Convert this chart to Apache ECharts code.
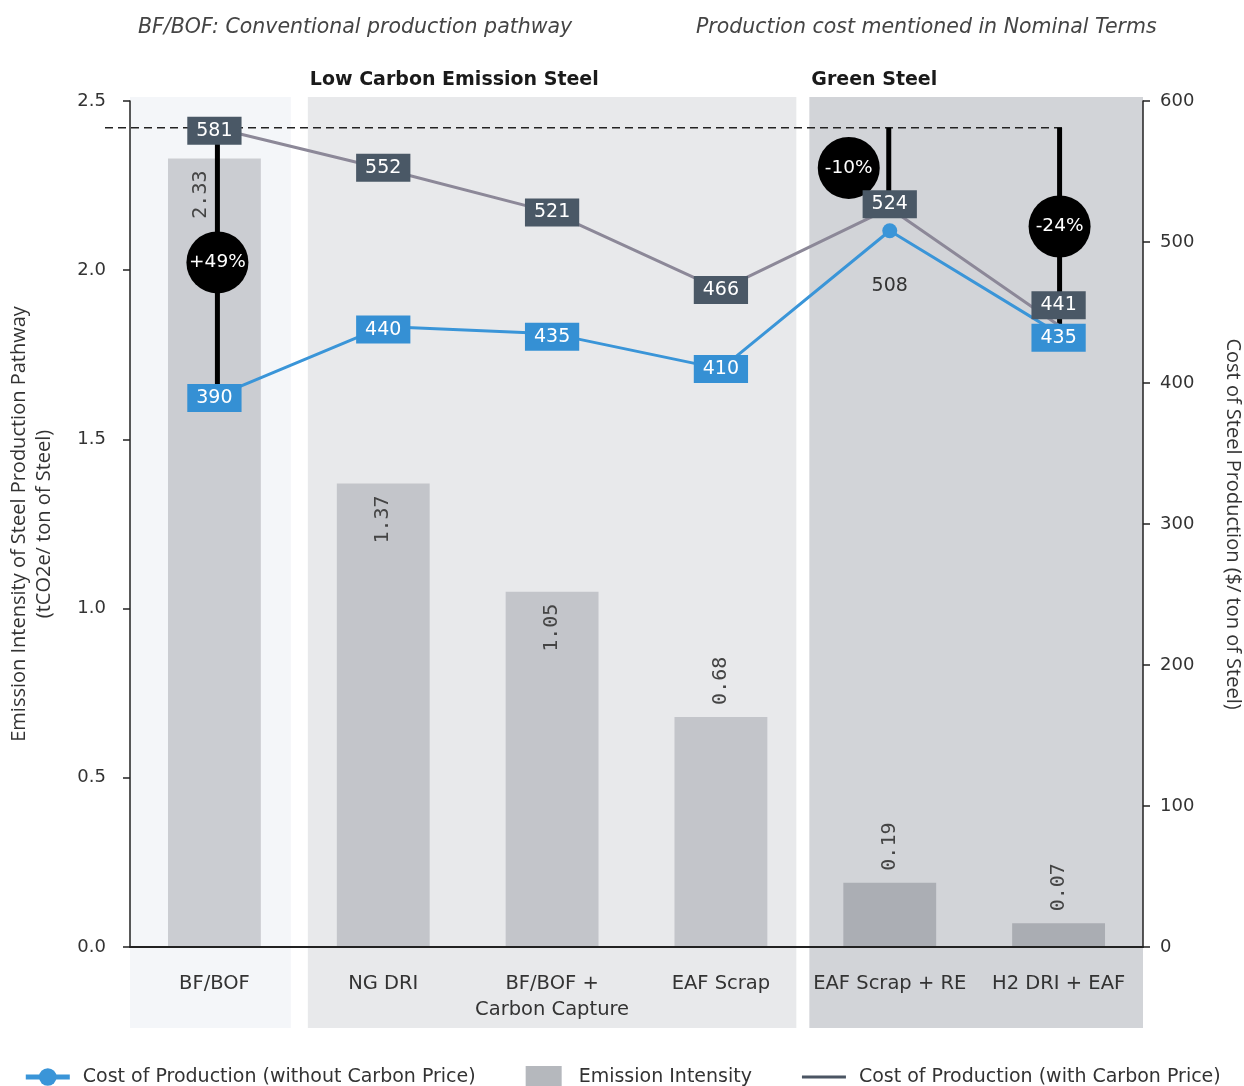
<!DOCTYPE html>
<html>
<head>
<meta charset="utf-8">
<script src="https://cdn.jsdelivr.net/npm/echarts@6/dist/echarts.min.js"></script>
<style>
  html, body { margin: 0; padding: 0; background: #ffffff; }
  #chart { width: 1244px; height: 1086px; }
</style>
</head>
<body>
<div id="chart"></div>
<script>
// Production pathways on the category axis
const categories = ['BF/BOF', 'NG DRI', 'BF/BOF +\nCarbon Capture', 'EAF Scrap', 'EAF Scrap + RE', 'H2 DRI + EAF'];

// Emission intensity (tCO2e / ton of steel), left axis
const emissionIntensity = [2.33, 1.37, 1.05, 0.68, 0.19, 0.07];

// Cost of production ($ / ton of steel), right axis
const costWithoutCarbon = [390, 440, 435, 410, 508, 435];
const costWithCarbon = [581, 552, 521, 466, 524, 441];

// Cost change callouts: category index, from value, to value, text
const changeCategory = [0, 4, 5];
const changeFrom = [581, 581, 581];
const changeTo = [390, 524, 441];
const changeText = ['+49%', '-10%', '-24%'];

// Pathway groups (first / last category of each shaded block)
const groupStart = [0, 1, 4];
const groupEnd = [0, 3, 5];
const groupTitle = ['', 'Low Carbon Emission Steel', 'Green Steel'];

// Axis ranges
const leftAxisMax = 2.5, leftAxisStep = 0.5;
const rightAxisMax = 600, rightAxisStep = 100;

// ---- styling ----
const SANS = "'DejaVu Sans', sans-serif";
const MONO = "'DejaVu Sans Mono', monospace";
const TITLE_FONT = "'Open Sans', sans-serif";
const groupFill = ['#f4f6f9', '#e8e9eb', '#d2d4d8'];
const groupInset = [[0, 8], [9, 9], [4, 0]];
const barFill = ['#cbcdd2', '#c3c5ca', '#c3c5ca', '#c3c5ca', '#abaeb4', '#aaadb3'];
// label offsets are in the rotated text frame: [along text, across text]
const barLabelShift = [[0, -14], [0, 0], [0, 0], [0, 0], [0, 0], [0, 0]];
const BLUE = '#3a95d8', BLUE_BOX = '#3590d4';
const GREY_LINE = '#8c8898', GREY_BOX = '#4a5866';
const circleShift = [0, -40, 0];
const stemShift = [3, -1, 1];
const greyLabelOffset = [[0, 3], [0, -1], [0, 0], [0, 0], [0, -4], [0, -20]];
const blueLabelOffset = [[0, 1], [0, 3], [0, 3], [0, 0], [0, 0], [0, 4]];

const chart = echarts.init(document.getElementById('chart'), null, { renderer: 'canvas' });

function renderGroup(params, api) {
  const i = params.dataIndex;
  const cs = params.coordSys;
  const half = api.size([1, 0])[0] / 2;
  const x0 = api.coord([api.value(0), 0])[0] - half + groupInset[i][0];
  const x1 = api.coord([api.value(1), 0])[0] + half - groupInset[i][1];
  const y0 = cs.y - 4;
  const y1 = cs.y + cs.height + 81;
  const children = [{
    type: 'rect',
    shape: { x: x0, y: y0, width: x1 - x0, height: y1 - y0 },
    style: { fill: groupFill[i] }
  }];
  if (groupTitle[i]) {
    children.push({
      type: 'text',
      x: x0 + 2, y: cs.y - 21,
      style: {
        text: groupTitle[i], fill: '#1a1a1a', font: 'bold 19px ' + SANS,
        textAlign: 'left', textVerticalAlign: 'middle'
      }
    });
  }
  return { type: 'group', children };
}

function renderBaseline(params, api) {
  const cs = params.coordSys;
  const y = api.coord([0, api.value(2)])[1];
  const x1 = api.coord([api.value(1), 0])[0] + 8;
  return {
    type: 'line',
    shape: { x1: cs.x - 25, y1: y, x2: x1, y2: y },
    style: { stroke: '#222', lineWidth: 1.5, lineDash: [8, 5] }
  };
}

function renderChange(params, api) {
  const i = params.dataIndex;
  const cat = api.value(0);
  const p0 = api.coord([cat, api.value(1)]);
  const p1 = api.coord([cat, api.value(2)]);
  const sx = p0[0] + stemShift[i];
  const cy = (p0[1] + p1[1]) / 2;
  const cx = sx + circleShift[i];
  return {
    type: 'group',
    children: [
      { type: 'line', shape: { x1: sx, y1: p0[1], x2: sx, y2: p1[1] },
        style: { stroke: '#000', lineWidth: 5 } },
      { type: 'circle', shape: { cx: cx, cy: cy, r: 31 }, style: { fill: '#000' } },
      { type: 'text', x: cx, y: cy,
        style: { text: changeText[i], fill: '#fff', font: '18.5px ' + SANS,
                 textAlign: 'center', textVerticalAlign: 'middle' } }
    ]
  };
}

const boxLabel = (bg) => ({
  show: true, position: 'inside', formatter: '{c}',
  color: '#fff', backgroundColor: bg, padding: [5, 9, 4, 9],
  fontFamily: SANS, fontSize: 19
});

const barData = emissionIntensity.map((v, i) => ({
  value: v,
  label: v >= 1
    ? { position: 'insideTop', rotate: 90, align: 'right', verticalAlign: 'middle', distance: 12, offset: barLabelShift[i] }
    : { position: 'top', rotate: 90, align: 'left', verticalAlign: 'middle', distance: 12, offset: barLabelShift[i] }
}));

const greyData = costWithCarbon.map((v, i) => ({ value: v, label: { offset: greyLabelOffset[i] } }));
const blueData = costWithoutCarbon.map((v, i) => (i === 4
  ? { value: v, label: { position: 'bottom', distance: 38, backgroundColor: 'transparent', color: '#333', padding: 0 } }
  : { value: v, label: { offset: blueLabelOffset[i] } }));

const option = {
  animation: false,
  textStyle: { fontFamily: SANS },
  title: [
    { text: 'BF/BOF: Conventional production pathway', left: 133, top: 13,
      textStyle: { fontFamily: SANS, fontStyle: 'italic', fontWeight: 'normal', fontSize: 20.5, color: '#444' } },
    { text: 'Production cost mentioned in Nominal Terms', left: 691, top: 13,
      textStyle: { fontFamily: SANS, fontStyle: 'italic', fontWeight: 'normal', fontSize: 20.5, color: '#444' } }
  ],
  grid: { left: 130, right: 101, top: 101, bottom: 139, outerBoundsMode: 'none', containLabel: false },
  legend: {
    top: 1061, left: 'center', itemGap: 50, itemWidth: 44, itemHeight: 22,
    textStyle: { fontFamily: SANS, fontSize: 19, color: '#333', padding: [0, 0, 0, 8] },
    data: [
      { name: 'Cost of Production (without Carbon Price)', lineStyle: { width: 5 } },
      { name: 'Emission Intensity', icon: 'path://M0,0h36v22h-36z', itemStyle: { color: '#b5b8bd' } },
      { name: 'Cost of Production (with Carbon Price)', icon: 'path://M0,0h44v3h-44z',
        itemStyle: { color: '#4b5563' } }
    ]
  },
  xAxis: {
    type: 'category', data: categories, z: 4,
    axisLine: { lineStyle: { color: '#222', width: 2 } },
    axisTick: { show: false },
    axisLabel: { margin: 24, fontFamily: SANS, fontSize: 19.5, color: '#333', lineHeight: 26, interval: 0 }
  },
  yAxis: [
    {
      type: 'value', min: 0, max: leftAxisMax, interval: leftAxisStep, z: 4,
      name: 'Emission Intensity of Steel Production Pathway\n(tCO2e/ ton of Steel)',
      nameLocation: 'middle', nameGap: 73, nameRotate: 90,
      nameTextStyle: { fontFamily: TITLE_FONT, fontSize: 20, color: '#333', lineHeight: 25 },
      axisLine: { show: true, lineStyle: { color: '#222', width: 1.5 } },
      axisTick: { show: true, length: 7, lineStyle: { color: '#222', width: 1.5 } },
      axisLabel: { margin: 24, fontFamily: SANS, fontSize: 18, color: '#333', formatter: v => v.toFixed(1) },
      splitLine: { show: false }
    },
    {
      type: 'value', min: 0, max: rightAxisMax, interval: rightAxisStep, z: 4,
      name: 'Cost of Steel Production ($/ ton of Steel)',
      nameLocation: 'middle', nameGap: 80, nameRotate: -90,
      nameTextStyle: { fontFamily: TITLE_FONT, fontSize: 20, color: '#333' },
      axisLine: { show: true, lineStyle: { color: '#222', width: 1.5 } },
      axisTick: { show: true, length: 7, lineStyle: { color: '#222', width: 1.5 } },
      axisLabel: { margin: 17, fontFamily: SANS, fontSize: 18, color: '#333' },
      splitLine: { show: false }
    }
  ],
  series: [
    {
      name: 'groups', type: 'custom', z: 0, clip: false, silent: true,
      xAxisIndex: 0, yAxisIndex: 0,
      encode: { x: [0, 1], y: 2 },
      renderItem: renderGroup,
      data: groupStart.map((s, i) => [s, groupEnd[i], 0])
    },
    {
      name: 'Emission Intensity', type: 'bar', yAxisIndex: 0, z: 2,
      barWidth: '55%',
      itemStyle: { color: p => barFill[p.dataIndex] },
      label: { show: true, fontFamily: MONO, fontSize: 20, color: '#444', formatter: p => p.value.toFixed(2) },
      data: barData
    },
    {
      name: 'baseline', type: 'custom', z: 3, clip: false, silent: true,
      yAxisIndex: 1, encode: { x: [0, 1], y: 2 },
      renderItem: renderBaseline,
      data: [[0, 5, costWithCarbon[0]]]
    },
    {
      name: 'change', type: 'custom', z: 3, clip: false, silent: true,
      yAxisIndex: 1, encode: { x: 0, y: [1, 2] },
      renderItem: renderChange,
      data: changeCategory.map((c, i) => [c, changeFrom[i], changeTo[i]])
    },
    {
      name: 'Cost of Production (with Carbon Price)', type: 'line', yAxisIndex: 1, z: 4,
      color: GREY_LINE, symbol: 'circle', symbolSize: 2, showSymbol: true,
      itemStyle: { color: GREY_LINE },
      lineStyle: { color: GREY_LINE, width: 3 },
      label: boxLabel(GREY_BOX),
      data: greyData
    },
    {
      name: 'Cost of Production (without Carbon Price)', type: 'line', yAxisIndex: 1, z: 4,
      color: BLUE, symbol: 'circle', symbolSize: 15, showSymbol: true,
      itemStyle: { color: BLUE },
      lineStyle: { color: BLUE, width: 3 },
      label: boxLabel(BLUE_BOX),
      data: blueData
    }
  ]
};

chart.setOption(option);
</script>
</body>
</html>
